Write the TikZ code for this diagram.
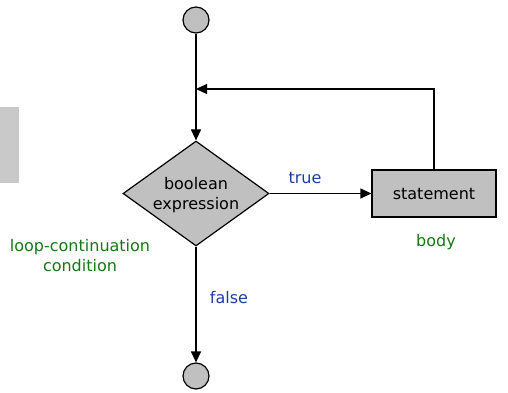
\documentclass[tikz,border=0pt]{standalone}
\usepackage{fontspec}
\setmainfont{DejaVu Sans}
\usetikzlibrary{arrows.meta,shapes.geometric}
\definecolor{fillgray}{RGB}{192,192,192}
\definecolor{lblblue}{RGB}{30,60,160}
\definecolor{lblgreen}{RGB}{20,120,20}
\newcommand{\zerobox}[1]{\makebox[0pt]{\raisebox{-6pt}[0pt][0pt]{#1}}}
\begin{document}
\begin{tikzpicture}[x=1pt,y=-1pt,
  line width=1.2pt,
  lbfont/.style={font=\fontsize{16}{20}\selectfont},
  arr/.style={-{Triangle[length=11pt,width=10pt]}},
  term/.style={circle,draw,fill=fillgray,minimum size=26pt,inner sep=0pt},
  dec/.style={diamond,draw,fill=fillgray,minimum width=146pt,minimum height=105pt,inner sep=0pt,lbfont},
  stmt/.style={rectangle,draw,fill=fillgray,minimum width=124pt,minimum height=47pt,inner sep=0pt,lbfont},
  bluelbl/.style={text=lblblue,lbfont},
  greenlbl/.style={text=lblgreen,align=center,lbfont}]
\useasboundingbox (0,0) rectangle (508,393);
\fill[fillgray!85] (0,107) rectangle (19,183);
\node[term] (start) at (196,20) {};
\node[dec] (cond) at (196,193.5) {\zerobox{\begin{tabular}{@{}c@{}}boolean\\expression\end{tabular}}};
\node[stmt] (body) at (434,193.5) {statement};
\node[term] (end) at (196,376) {};
\coordinate (join) at (196,89);
\coordinate (corner) at (434,89);
\draw[arr] (start) -- (cond);
\draw[arr] (body.north) -- (corner) -- (join);
\draw[arr] (cond.east) -- (body.west);
\draw[arr] (cond.south) -- (end);
\node[bluelbl] (ltrue) at (305,178) {true};
\node[bluelbl] (lfalse) at (229,298) {false};
\node[greenlbl] (lbody) at (436,242) {body};
\node[greenlbl] (lcond) at (80,256) {loop-continuation\\condition};
\end{tikzpicture}
\end{document}
